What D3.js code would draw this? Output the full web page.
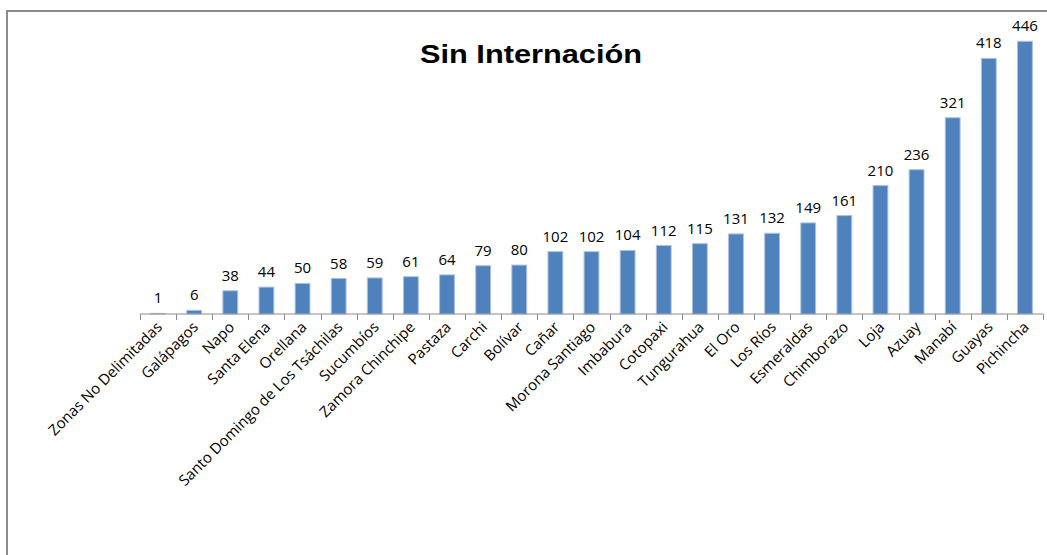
<!DOCTYPE html>
<html>
<head>
<meta charset="utf-8">
<script src="https://cdn.jsdelivr.net/npm/d3@7"></script>
<style>
  body { margin: 0; background: #fff; }
  svg { display: block; }
</style>
</head>
<body>
<svg id="chart" width="1047" height="555"></svg>
<script>
  // ----------
  var provinces = [
    'Zonas No Delimitadas', 'Galápagos', 'Napo', 'Santa Elena', 'Orellana',
    'Santo Domingo de Los Tsáchilas', 'Sucumbíos', 'Zamora Chinchipe', 'Pastaza',
    'Carchi', 'Bolívar', 'Cañar', 'Morona Santiago', 'Imbabura', 'Cotopaxi',
    'Tungurahua', 'El Oro', 'Los Ríos', 'Esmeraldas', 'Chimborazo', 'Loja',
    'Azuay', 'Manabí', 'Guayas', 'Pichincha'
  ];
  var counts = [1, 6, 38, 44, 50, 58, 59, 61, 64, 79, 80, 102, 102, 104, 112,
    115, 131, 132, 149, 161, 210, 236, 321, 418, 446];
  var title = 'Sin Internación';

  var svg = d3.select('#chart');
  var font = '"Open Sans", "DejaVu Sans", sans-serif';

  // chart frame, only the left and top edges show in the picture
  svg.append('path')
    .attr('d', 'M7,555 V11 H1047')
    .attr('fill', 'none')
    .attr('stroke', '#8c8c8c')
    .attr('stroke-width', 2);

  // the title is drawn a bit wide, so stretch it to the measured width
  svg.append('text')
    .attr('x', 420)
    .attr('y', 63)
    .attr('textLength', 222)
    .attr('lengthAdjust', 'spacingAndGlyphs')
    .attr('font-family', 'Arial, "Liberation Sans", sans-serif')
    .attr('font-weight', 'bold')
    .attr('font-size', 25)
    .attr('fill', '#000')
    .text(title);

  var left = 140;
  var right = 1043;
  var baseline = 314;

  var x = d3.scaleBand()
    .domain(provinces)
    .range([left, right])
    .paddingInner(0.59)
    .paddingOuter(0.295);

  var y = d3.scaleLinear()
    .domain([0, 500])
    .range([baseline, 8.3]);

  // bars
  svg.append('g')
    .selectAll('rect')
    .data(counts)
    .enter()
    .append('rect')
    .attr('x', function(d, i) { return x(provinces[i]); })
    .attr('y', function(d) { return y(d); })
    .attr('width', x.bandwidth())
    .attr('height', function(d) { return baseline - y(d); })
    .attr('fill', '#4f81bd')
    .attr('stroke', '#a9c1e0')
    .attr('stroke-width', 1);

  // value labels
  svg.append('g')
    .selectAll('text')
    .data(counts)
    .enter()
    .append('text')
    .attr('x', function(d, i) { return x(provinces[i]) + x.bandwidth() / 2; })
    .attr('y', function(d) { return y(d) - 10; })
    .attr('text-anchor', 'middle')
    .attr('font-family', font)
    .attr('font-size', 15)
    .attr('fill', '#000')
    .text(function(d) { return d; });

  // category axis with ticks on the band edges
  var axis = svg.append('g');
  axis.append('line')
    .attr('x1', left).attr('x2', right)
    .attr('y1', baseline).attr('y2', baseline)
    .attr('stroke', '#8c8c8c')
    .attr('stroke-width', 1);

  var step = x.step();
  d3.range(provinces.length + 1).forEach(function(i) {
    var tx = Math.round(left + i * step) + 0.5;
    axis.append('line')
      .attr('x1', tx).attr('x2', tx)
      .attr('y1', baseline).attr('y2', baseline + 6)
      .attr('stroke', '#8c8c8c');
  });

  axis.selectAll('text.cat')
    .data(provinces)
    .enter()
    .append('text')
    .attr('class', 'cat')
    .attr('transform', function(d) {
      var cx = x(d) + x.bandwidth() / 2 + 5;
      var cy = baseline + 14;
      return 'translate(' + cx + ',' + cy + ') rotate(-45)';
    })
    .attr('text-anchor', 'end')
    .attr('font-family', font)
    .attr('font-size', 15)
    .attr('fill', '#000')
    .text(function(d) { return d; });
</script>
</body>
</html>
